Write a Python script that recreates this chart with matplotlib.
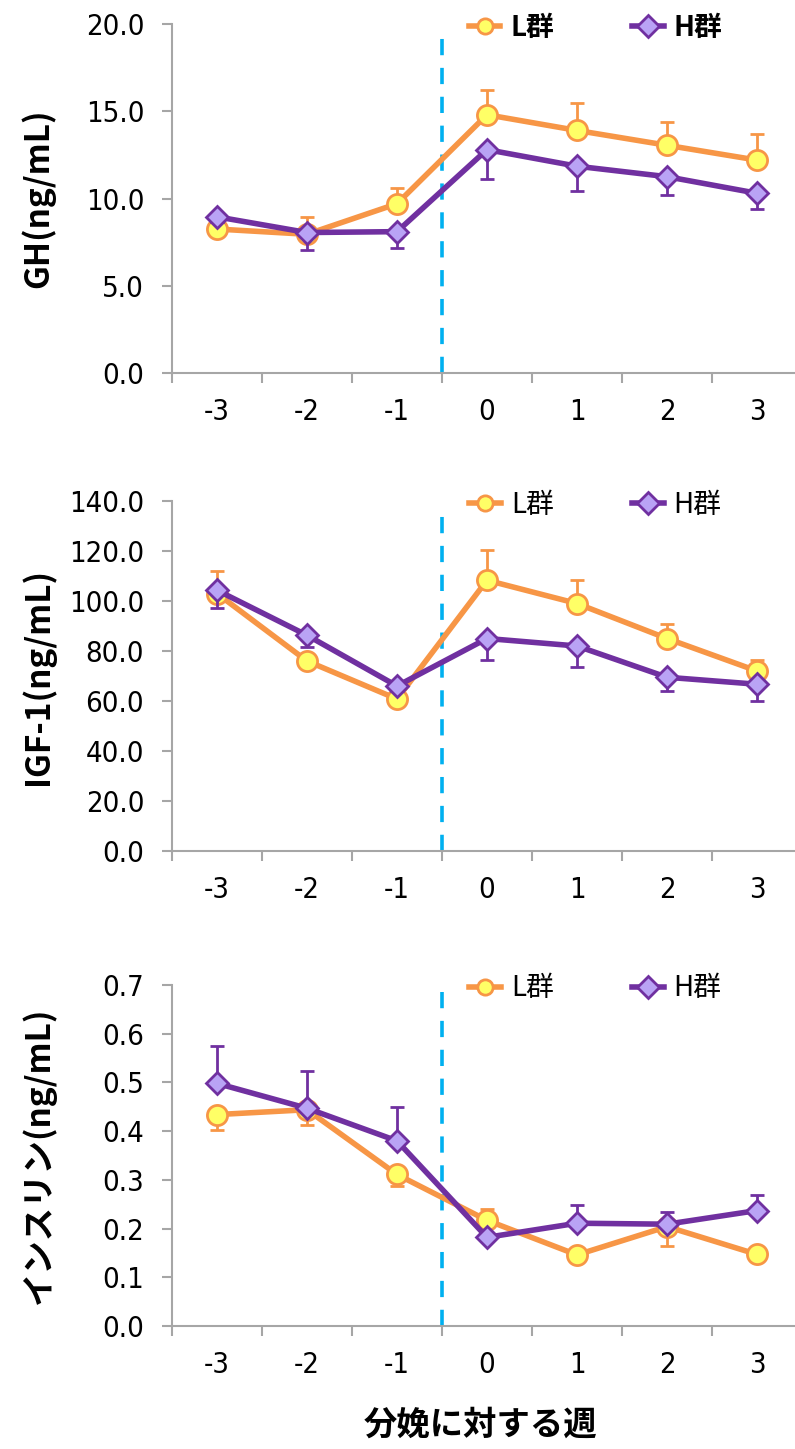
import matplotlib
matplotlib.use("Agg")
import matplotlib.pyplot as plt
from matplotlib import font_manager as fm
import numpy as np

plt.rcParams['font.family'] = ['Noto Sans CJK JP', 'DejaVu Sans']

weeks = ["-3", "-2", "-1", "0", "1", "2", "3"]

# GH
L_gh = [8.25, 7.95, 9.7, 14.8, 13.9, 13.05, 12.2]
L_gh_lo = [0, 0, 0, 0, 0, 0, 0]
L_gh_hi = [0.3, 1.0, 0.9, 1.4, 1.6, 1.35, 1.5]
H_gh = [8.95, 8.05, 8.1, 12.8, 11.85, 11.25, 10.3]
H_gh_lo = [0.3, 1.0, 0.95, 1.7, 1.4, 1.05, 0.9]
H_gh_hi = [0, 0, 0, 0, 0, 0, 0]

# IGF-1
L_igf = [103.0, 76.0, 60.8, 108.3, 99.0, 85.0, 72.0]
L_igf_lo = [0, 0, 0, 0, 0, 0, 0]
L_igf_hi = [9.0, 3.0, 2.0, 12.0, 9.3, 6.0, 4.6]
H_igf = [104.3, 86.3, 66.0, 85.0, 82.0, 69.5, 66.7]
H_igf_lo = [7.0, 4.7, 2.0, 8.7, 8.3, 5.6, 6.7]
H_igf_hi = [0, 0, 0, 0, 0, 0, 0]

# Insulin
L_ins = [0.434, 0.444, 0.311, 0.217, 0.146, 0.204, 0.147]
L_ins_lo = [0.031, 0.032, 0.023, 0.0, 0.0, 0.04, 0.0]
L_ins_hi = [0.0, 0.0, 0.0, 0.024, 0.0, 0.0, 0.0]
H_ins = [0.498, 0.447, 0.38, 0.182, 0.211, 0.209, 0.237]
H_ins_lo = [0, 0, 0, 0, 0, 0, 0]
H_ins_hi = [0.077, 0.077, 0.07, 0.0, 0.037, 0.025, 0.032]

panels = [
    dict(L=L_gh, Llo=L_gh_lo, Lhi=L_gh_hi, H=H_gh, Hlo=H_gh_lo, Hhi=H_gh_hi,
         ylim=(0, 20), ticks=np.arange(0, 20.1, 5), fmt="{:.1f}", ylabel="GH(ng/mL)",
         pos=[172/795, 1-373/1449, 630/795, 349/1449], legbold=True),
    dict(L=L_igf, Llo=L_igf_lo, Lhi=L_igf_hi, H=H_igf, Hlo=H_igf_lo, Hhi=H_igf_hi,
         ylim=(0, 140), ticks=np.arange(0, 140.1, 20), fmt="{:.1f}", ylabel="IGF-1(ng/mL)",
         pos=[172/795, 1-851/1449, 630/795, 350/1449], legbold=False),
    dict(L=L_ins, Llo=L_ins_lo, Lhi=L_ins_hi, H=H_ins, Hlo=H_ins_lo, Hhi=H_ins_hi,
         ylim=(0, 0.7), ticks=np.arange(0, 0.71, 0.1), fmt="{:.1f}", ylabel="インスリン(ng/mL)",
         pos=[172/795, 1-1326/1449, 630/795, 341/1449], legbold=False),
]

ORANGE = "#F79646"
YELLOW = "#FFFF66"
PURPLE = "#7030A0"
LILAC = "#B9A3F5"
BLUE = "#00B0F0"
GRAY = "#A6A6A6"

tickfont = fm.FontProperties(family=['DejaVu Sans'], stretch='condensed', size=21)

fig = plt.figure(figsize=(7.95, 14.49), dpi=100)
x = np.arange(len(weeks))

for p in panels:
    ax = fig.add_axes(p['pos'])
    ax.axvline(2.5, ymin=0, ymax=0.98, color=BLUE, lw=2.6, dashes=(4.5, 3.5), zorder=1)
    ax.errorbar(x, p['L'], yerr=[p['Llo'], p['Lhi']], fmt='none', ecolor=ORANGE,
                elinewidth=2, capsize=5, capthick=2, zorder=2)
    ax.plot(x, p['L'], color=ORANGE, lw=4, marker='o', ms=14.5, mfc=YELLOW,
            mec=ORANGE, mew=2, label="L群", zorder=3)
    ax.errorbar(x, p['H'], yerr=[p['Hlo'], p['Hhi']], fmt='none', ecolor=PURPLE,
                elinewidth=2, capsize=5, capthick=2, zorder=4)
    ax.plot(x, p['H'], color=PURPLE, lw=4, marker='D', ms=11, mfc=LILAC,
            mec=PURPLE, mew=2, label="H群", zorder=5)
    ax.set_xlim(-0.5, 6.5)
    ax.set_ylim(*p['ylim'])
    ax.set_yticks(p['ticks'])
    ax.set_yticklabels([p['fmt'].format(t) for t in p['ticks']], fontproperties=tickfont)
    ax.set_xticks(x)
    ax.set_xticklabels(weeks, fontproperties=tickfont)
    ax.set_xticks(np.arange(-0.5, 7.0, 1.0), minor=True)
    ax.tick_params(axis='x', which='major', length=0, pad=18)
    ax.tick_params(axis='x', which='minor', length=7, width=1.5, color=GRAY, direction='out')
    ax.tick_params(axis='y', length=7, width=1.5, color=GRAY, direction='out', pad=13)
    for s in ['top', 'right']:
        ax.spines[s].set_visible(False)
    for s in ['left', 'bottom']:
        ax.spines[s].set_color(GRAY)
        ax.spines[s].set_linewidth(1.5)
    ax.set_ylabel(p['ylabel'], fontsize=24, fontweight='bold')
    ax.yaxis.set_label_coords(-0.185, 0.5)
    leg = ax.legend(loc='center', bbox_to_anchor=(0.672, 0.99), ncol=2, frameon=False,
                    columnspacing=2.8, handlelength=1.15, handletextpad=0.35,
                    prop=dict(family=['Noto Sans CJK JP'], size=20,
                              weight='bold' if p['legbold'] else 'normal'))
    for line in leg.get_lines():
        line.set_markersize(11)

fig.text(480/795, 1-1425/1449, "分娩に対する週", ha='center', va='center',
         fontsize=24, fontweight='bold')

fig.savefig("out.png", dpi=100)
